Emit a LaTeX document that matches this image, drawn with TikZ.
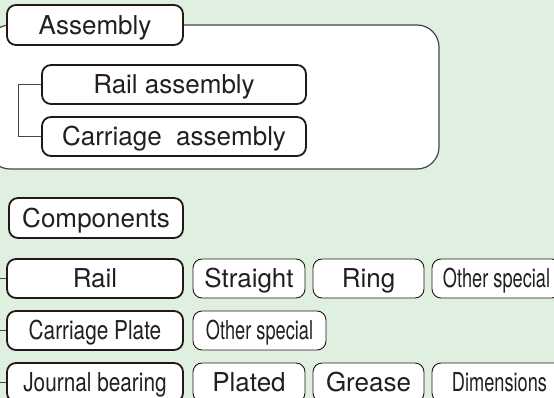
\documentclass[tikz,border=0pt]{standalone}
\usepackage{fontspec}
\setmainfont{TeX Gyre Heros}
\newfontfamily\narrowfont[FakeStretch=0.8]{TeX Gyre Heros}
\newfontfamily\condfont[FakeStretch=0.7]{TeX Gyre Heros}
\usepackage{tikz}
\usetikzlibrary{positioning}
\definecolor{bggreen}{HTML}{DFF0E1}
\definecolor{boxline}{HTML}{231815}
\definecolor{frameline}{HTML}{4A4446}
\definecolor{txt}{HTML}{231F20}
\newcommand{\boxfont}{\fontsize{26}{30}\selectfont}
\tikzstyle{mainbox}=[draw=boxline, line width=1.8pt, rounded corners=9pt, fill=white,
    inner sep=0pt, text=txt, font=\boxfont, text height=18.7pt, text depth=0pt,
    minimum height=39pt]
\tikzstyle{subbox}=[mainbox, line width=0.9pt]
\tikzstyle{link}=[draw=frameline, line width=1pt]

\begin{document}
\begin{tikzpicture}[x=1pt, y=-1pt]
          \useasboundingbox (0,0) rectangle (554,398);
          \fill[bggreen] (0,0) rectangle (554,398);
          \clip (0,0) rectangle (554,398);
          % assembly frame
          \draw[frameline, line width=1.2pt, fill=white, rounded corners=22pt] (-12,25) rectangle (439,169);
          \node[mainbox, minimum width=176pt, minimum height=40pt] (asm) at (95,25){Assembly};
          \node[mainbox, minimum width=264pt] (railasm) at (174,84.5){Rail assembly};
          \node[mainbox, minimum width=264pt] (carasm) at (174,136.5){Carriage\ \ assembly};
          \coordinate (fork) at (18,84.5);
          \draw[link](railasm.west) -- (fork) |- (carasm.west);
          % components
          \node[mainbox, minimum width=174pt, minimum height=40pt] (comp) at (96,218){Components};
          \node[mainbox, minimum width=176pt] (rail) at (95,278.5){Rail};
          \node[subbox, minimum width=112pt] (straight) at (249,278.5){Straight};
          \node[subbox, minimum width=111pt] (ring) at (368.5,278.5){Ring};
          \node[subbox, minimum width=129pt, font=\boxfont\condfont] (othera) at (496.5,278.5){Other special};
          \node[mainbox, minimum width=176pt, font=\boxfont\narrowfont] (cplate) at (95,330.5){Carriage Plate};
          \node[subbox, minimum width=133pt, font=\boxfont\condfont] (otherb) at (259.5,330.5){Other special};
          \node[mainbox, minimum width=176pt, font=\boxfont\narrowfont] (journal) at (95,382.5){Journal bearing};
          \node[subbox, minimum width=112pt] (plated) at (249,382.5){Plated};
          \node[subbox, minimum width=111pt] (grease) at (368.5,382.5){Grease};
          \node[subbox, minimum width=135pt, font=\boxfont\condfont] (dims) at (499.5,382.5){Dimensions};
          \coordinate (railin) at (-5,278.5);
          \coordinate (cplatein) at (-5,330.5);
          \coordinate (journalin) at (-5,382.5);
          \draw[link](railin) -- (rail);
          \draw[link](cplatein) -- (cplate);
          \draw[link](journalin) -- (journal);
        \end{tikzpicture}
\end{document}
